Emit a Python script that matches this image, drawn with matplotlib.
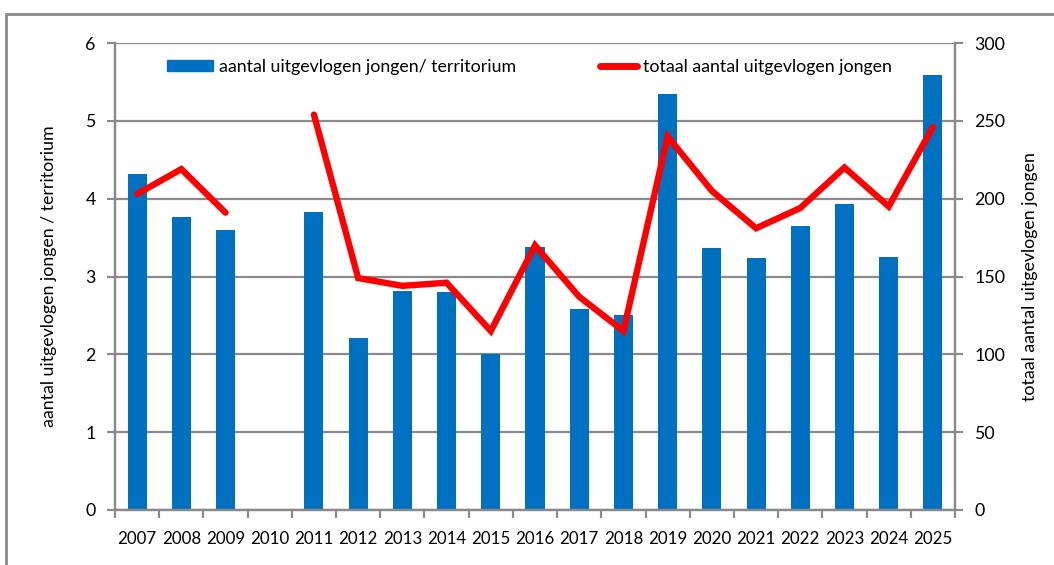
import numpy as np
import matplotlib.pyplot as plt
from matplotlib.patches import Rectangle
from matplotlib.lines import Line2D

plt.rcParams['font.family'] = ['Lato', 'DejaVu Sans']

years = ['2007', '2008', '2009', '2010', '2011', '2012', '2013', '2014', '2015', '2016',
         '2017', '2018', '2019', '2020', '2021', '2022', '2023', '2024', '2025']
per_territorium = [4.32, 3.77, 3.60, np.nan, 3.83, 2.21, 2.81, 2.80, 2.00, 3.38,
                   2.58, 2.51, 5.35, 3.37, 3.24, 3.65, 3.93, 3.25, 5.59]
totaal = [203, 219, 191, np.nan, 254, 149, 144, 146, 115, 170,
          137, 115, 240, 205, 181, 194, 220, 195, 246]

grey = '#8a8a8a'
fs = 12.8

fig = plt.figure(figsize=(10.54, 5.65), dpi=100)
ax = fig.add_axes([115/1054, 55/565, 840/1054, 467/565])
ax2 = ax.twinx()

x = np.arange(len(years))
ax.bar(x, per_territorium, width=0.43, color='#0070C0', zorder=2)
ax2.plot(x, totaal, color='#FF0000', lw=4.6, solid_capstyle='round',
         solid_joinstyle='miter', zorder=3)

ax.set_xlim(-0.5, len(years) - 0.5)
ax.set_ylim(0, 6)
ax2.set_ylim(0, 300)
ax.set_yticks(range(0, 7))
ax2.set_yticks(range(0, 301, 50))
ax.set_xticks(x)
ax.set_xticklabels(years, fontsize=fs - 0.6)
ax.set_xticks(np.arange(-0.5, len(years)), minor=True)
ax.tick_params(axis='x', which='major', length=0, pad=15)
ax.tick_params(axis='x', which='minor', length=6, width=1.5, color=grey)
ax.tick_params(axis='y', length=6, width=1.5, color=grey, labelsize=fs, pad=8)
ax2.tick_params(axis='y', length=6, width=1.5, color=grey, labelsize=fs, pad=8)

ax.set_axisbelow(True)
ax.grid(axis='y', color=grey, lw=1.6)
for a in (ax, ax2):
    a.spines['top'].set_visible(False)
    for s in ('left', 'right', 'bottom'):
        a.spines[s].set_color(grey)
        a.spines[s].set_linewidth(1.6)

ax.set_ylabel('aantal uitgevlogen jongen / territorium', fontsize=fs, labelpad=20)
ax2.set_ylabel('totaal aantal uitgevlogen jongen', fontsize=fs, labelpad=12)

h1 = Rectangle((0, 0), 1, 1, color='#0070C0')
h2 = Line2D([], [], color='#FF0000', lw=5, solid_capstyle='round')
leg1 = fig.legend([h1], ['aantal uitgevlogen jongen/ territorium'], loc='center left',
                  bbox_to_anchor=(167/1054, 1 - 67/565), frameon=False, fontsize=fs,
                  borderpad=0, borderaxespad=0,
                  handlelength=2.6, handleheight=0.55, handletextpad=0.3)
leg2 = fig.legend([h2], ['totaal aantal uitgevlogen jongen'], loc='center left',
                  bbox_to_anchor=(600/1054, 1 - 67/565), frameon=False, fontsize=fs,
                  borderpad=0, borderaxespad=0,
                  handlelength=2.1, handletextpad=0.3)

# outer chart frame
fig.patches.append(Rectangle((6/1054, -0.1), 1.2, (565 - 14)/565 + 0.1,
                             transform=fig.transFigure, fill=False,
                             edgecolor=grey, lw=2))

fig.savefig('out.png', dpi=100)
